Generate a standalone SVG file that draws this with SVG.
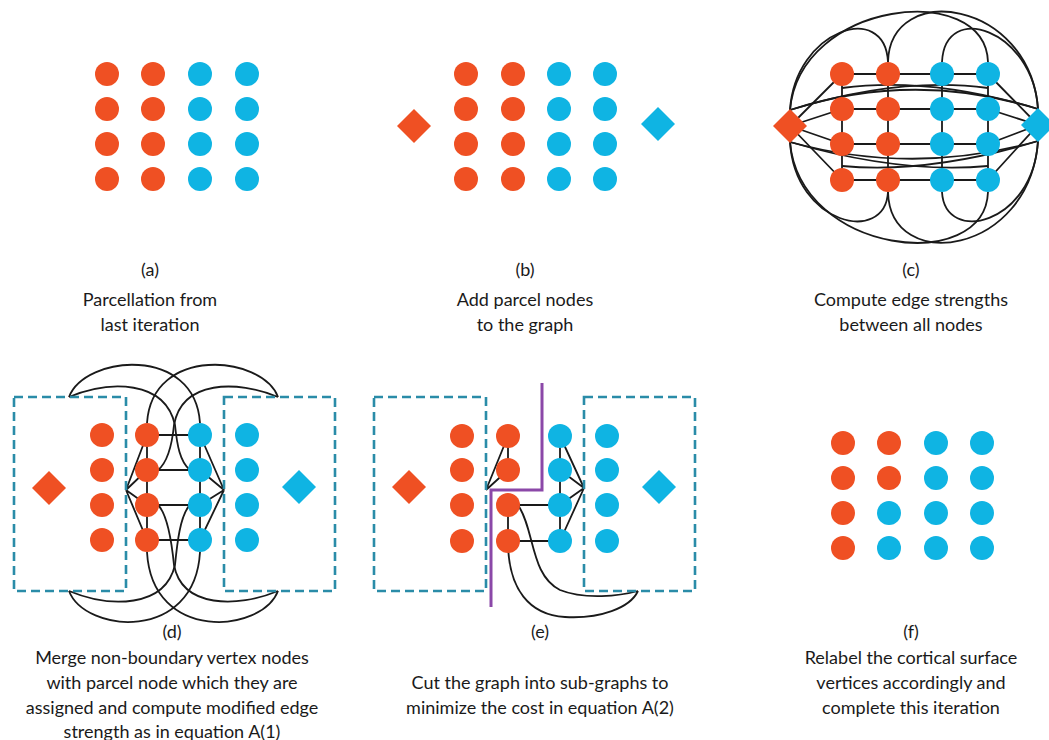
<svg xmlns="http://www.w3.org/2000/svg" width="1049" height="740" viewBox="0 0 1049 740">
<style>
.o{fill:#EF5023}
.b{fill:#0FB4E3}
.ln{fill:none;stroke:#1a1a1a;stroke-width:1.8}
.box{fill:none;stroke:#2A8CA8;stroke-width:2.6;stroke-dasharray:9 5}
.cut{fill:none;stroke:#8B48A8;stroke-width:3}
text{font-family:Lato,"Liberation Sans",sans-serif;font-size:18px;fill:#1a1a1a;text-anchor:middle}
</style>
<rect width="1049" height="740" fill="#fff"/>

<g id="connectors">
  <!-- panel c -->
  <g id="conn-c" class="ln">
    <path d="M842,74H988M842,109H988M842,144H988M842,180H988"/>
    <path d="M842,74V180M888,74V180M942,74V180M988,74V180"/>
    <path d="M790,126L842,74M790,126L842,109M790,126L842,144M790,126L842,180"/>
    <path d="M1038,125L988,74M1038,125L988,109M1038,125L988,144M1038,125L988,180"/>
    <path d="M790,110C800,0 985,-20 988,62"/>
    <path d="M888,62C890,-20 1030,0 1038,109"/>
    <path d="M790,110C795,30 885,0 888,62"/>
    <path d="M942,62C945,0 1033,30 1038,109"/>
    <path d="M790,142C800,255 985,275 988,192"/>
    <path d="M888,192C890,275 1030,255 1038,141"/>
    <path d="M790,142C795,225 885,245 888,192"/>
    <path d="M942,192C945,245 1033,225 1038,141"/>
    <path d="M790,110Q914,70 1038,109"/>
    <path d="M790,110Q900,76 988,88"/>
    <path d="M842,88Q930,76 1038,109"/>
    <path d="M790,142Q914,176 1038,141"/>
    <path d="M790,142Q900,174 988,166"/>
    <path d="M842,166Q930,174 1038,141"/>
  </g>
  <!-- panel d -->
  <g id="conn-d" class="ln">
    <path d="M147,435H200M147,470H200M147,505H200M147,540H200"/>
    <path d="M147,435V540M200,435V540"/>
    <path d="M126,490L147,435M126,490L147,470M126,490L147,505M126,490L147,540"/>
    <path d="M224,490L200,435M224,490L200,470M224,490L200,505M224,490L200,540"/>
    <path d="M69,397C85,355 195,345 200,423"/>
    <path d="M278,397C262,355 152,345 147,423"/>
    <path d="M69,397C110,380 165,380 175,425C177,445 180,462 190,470"/>
    <path d="M278,397C237,380 182,380 174,425C172,445 168,462 158,470"/>
    <path d="M69,591C85,633 195,643 200,552"/>
    <path d="M278,591C262,633 152,643 147,552"/>
    <path d="M69,591C110,608 165,608 175,565C177,545 180,515 190,505"/>
    <path d="M278,591C237,608 182,608 174,565C172,545 168,515 158,505"/>
  </g>
  <!-- panel e -->
  <g id="conn-e" class="ln">
    <path d="M508,436V470M508,505V541"/>
    <path d="M486,490L508,436M486,490L508,470"/>
    <path d="M508,505H560M508,541H560"/>
    <path d="M560,436V541"/>
    <path d="M584,488L560,436M584,488L560,470M584,488L560,505M584,488L560,541"/>
    <path d="M518,505C535,530 530,575 560,590C585,600 620,596 638,591"/>
    <path d="M508,541C508,590 530,615 565,617C600,619 630,608 638,591"/>
  </g>
</g>

<g id="boxes">
  <rect class="box" x="14" y="397" width="112" height="194"/>
  <rect class="box" x="224" y="397" width="111" height="194"/>
  <rect class="box" x="374" y="397" width="112" height="194"/>
  <rect class="box" x="584" y="397" width="111" height="194"/>
</g>
<path id="cut-line" class="cut" d="M542,383V490H491V607"/>

<!-- panel a -->
<g id="panel-a">
  <g id="a11"><circle class="o" cx="107" cy="74" r="12"/></g>
  <g id="a12"><circle class="o" cx="153" cy="74" r="12"/></g>
  <g id="a13"><circle class="b" cx="200" cy="74" r="12"/></g>
  <g id="a14"><circle class="b" cx="247" cy="74" r="12"/></g>
  <g id="a21"><circle class="o" cx="107" cy="109" r="12"/></g>
  <g id="a22"><circle class="o" cx="153" cy="109" r="12"/></g>
  <g id="a23"><circle class="b" cx="200" cy="109" r="12"/></g>
  <g id="a24"><circle class="b" cx="247" cy="109" r="12"/></g>
  <g id="a31"><circle class="o" cx="107" cy="144" r="12"/></g>
  <g id="a32"><circle class="o" cx="153" cy="144" r="12"/></g>
  <g id="a33"><circle class="b" cx="200" cy="144" r="12"/></g>
  <g id="a34"><circle class="b" cx="247" cy="144" r="12"/></g>
  <g id="a41"><circle class="o" cx="107" cy="179" r="12"/></g>
  <g id="a42"><circle class="o" cx="153" cy="179" r="12"/></g>
  <g id="a43"><circle class="b" cx="200" cy="179" r="12"/></g>
  <g id="a44"><circle class="b" cx="247" cy="179" r="12"/></g>
</g>

<!-- panel b -->
<g id="panel-b">
  <g id="b-dl"><polygon class="o" points="414,109 431,126 414,143 397,126"/></g>
  <g id="b-dr"><polygon class="b" points="658,107 675,124 658,141 641,124"/></g>
  <g id="b11"><circle class="o" cx="466" cy="74" r="12"/></g>
  <g id="b12"><circle class="o" cx="513" cy="74" r="12"/></g>
  <g id="b13"><circle class="b" cx="559" cy="74" r="12"/></g>
  <g id="b14"><circle class="b" cx="605" cy="74" r="12"/></g>
  <g id="b21"><circle class="o" cx="466" cy="109" r="12"/></g>
  <g id="b22"><circle class="o" cx="513" cy="109" r="12"/></g>
  <g id="b23"><circle class="b" cx="559" cy="109" r="12"/></g>
  <g id="b24"><circle class="b" cx="605" cy="109" r="12"/></g>
  <g id="b31"><circle class="o" cx="466" cy="144" r="12"/></g>
  <g id="b32"><circle class="o" cx="513" cy="144" r="12"/></g>
  <g id="b33"><circle class="b" cx="559" cy="144" r="12"/></g>
  <g id="b34"><circle class="b" cx="605" cy="144" r="12"/></g>
  <g id="b41"><circle class="o" cx="466" cy="179" r="12"/></g>
  <g id="b42"><circle class="o" cx="513" cy="179" r="12"/></g>
  <g id="b43"><circle class="b" cx="559" cy="179" r="12"/></g>
  <g id="b44"><circle class="b" cx="605" cy="179" r="12"/></g>
</g>

<!-- panel c -->
<g id="panel-c">
  <g id="c-dl"><polygon class="o" points="790,109 807,126 790,143 773,126"/></g>
  <g id="c-dr"><polygon class="b" points="1038,108 1055,125 1038,142 1021,125"/></g>
  <g id="c11"><circle class="o" cx="842" cy="74" r="12"/></g>
  <g id="c12"><circle class="o" cx="888" cy="74" r="12"/></g>
  <g id="c13"><circle class="b" cx="942" cy="74" r="12"/></g>
  <g id="c14"><circle class="b" cx="988" cy="74" r="12"/></g>
  <g id="c21"><circle class="o" cx="842" cy="109" r="12"/></g>
  <g id="c22"><circle class="o" cx="888" cy="109" r="12"/></g>
  <g id="c23"><circle class="b" cx="942" cy="109" r="12"/></g>
  <g id="c24"><circle class="b" cx="988" cy="109" r="12"/></g>
  <g id="c31"><circle class="o" cx="842" cy="144" r="12"/></g>
  <g id="c32"><circle class="o" cx="888" cy="144" r="12"/></g>
  <g id="c33"><circle class="b" cx="942" cy="144" r="12"/></g>
  <g id="c34"><circle class="b" cx="988" cy="144" r="12"/></g>
  <g id="c41"><circle class="o" cx="842" cy="180" r="12"/></g>
  <g id="c42"><circle class="o" cx="888" cy="180" r="12"/></g>
  <g id="c43"><circle class="b" cx="942" cy="180" r="12"/></g>
  <g id="c44"><circle class="b" cx="988" cy="180" r="12"/></g>
</g>

<!-- panel d -->
<g id="panel-d">
  <g id="d-dl"><polygon class="o" points="49,471 66,488 49,505 32,488"/></g>
  <g id="d-dr"><polygon class="b" points="299,470 316,487 299,504 282,487"/></g>
  <g id="d11"><circle class="o" cx="102" cy="435" r="12"/></g>
  <g id="d12"><circle class="o" cx="147" cy="435" r="12"/></g>
  <g id="d13"><circle class="b" cx="200" cy="435" r="12"/></g>
  <g id="d14"><circle class="b" cx="247" cy="435" r="12"/></g>
  <g id="d21"><circle class="o" cx="102" cy="470" r="12"/></g>
  <g id="d22"><circle class="o" cx="147" cy="470" r="12"/></g>
  <g id="d23"><circle class="b" cx="200" cy="470" r="12"/></g>
  <g id="d24"><circle class="b" cx="247" cy="470" r="12"/></g>
  <g id="d31"><circle class="o" cx="102" cy="505" r="12"/></g>
  <g id="d32"><circle class="o" cx="147" cy="505" r="12"/></g>
  <g id="d33"><circle class="b" cx="200" cy="505" r="12"/></g>
  <g id="d34"><circle class="b" cx="247" cy="505" r="12"/></g>
  <g id="d41"><circle class="o" cx="102" cy="540" r="12"/></g>
  <g id="d42"><circle class="o" cx="147" cy="540" r="12"/></g>
  <g id="d43"><circle class="b" cx="200" cy="540" r="12"/></g>
  <g id="d44"><circle class="b" cx="247" cy="540" r="12"/></g>
</g>

<!-- panel e -->
<g id="panel-e">
  <g id="e-dl"><polygon class="o" points="409,470 426,487 409,504 392,487"/></g>
  <g id="e-dr"><polygon class="b" points="659,470 676,487 659,504 642,487"/></g>
  <g id="e11"><circle class="o" cx="462" cy="436" r="12"/></g>
  <g id="e12"><circle class="o" cx="508" cy="436" r="12"/></g>
  <g id="e13"><circle class="b" cx="560" cy="436" r="12"/></g>
  <g id="e14"><circle class="b" cx="607" cy="436" r="12"/></g>
  <g id="e21"><circle class="o" cx="462" cy="470" r="12"/></g>
  <g id="e22"><circle class="o" cx="508" cy="470" r="12"/></g>
  <g id="e23"><circle class="b" cx="560" cy="470" r="12"/></g>
  <g id="e24"><circle class="b" cx="607" cy="470" r="12"/></g>
  <g id="e31"><circle class="o" cx="462" cy="505" r="12"/></g>
  <g id="e32"><circle class="o" cx="508" cy="505" r="12"/></g>
  <g id="e33"><circle class="b" cx="560" cy="505" r="12"/></g>
  <g id="e34"><circle class="b" cx="607" cy="505" r="12"/></g>
  <g id="e41"><circle class="o" cx="462" cy="541" r="12"/></g>
  <g id="e42"><circle class="o" cx="508" cy="541" r="12"/></g>
  <g id="e43"><circle class="b" cx="560" cy="541" r="12"/></g>
  <g id="e44"><circle class="b" cx="607" cy="541" r="12"/></g>
</g>

<!-- panel f -->
<g id="panel-f">
  <g id="f11"><circle class="o" cx="843" cy="443" r="12"/></g>
  <g id="f12"><circle class="o" cx="889" cy="443" r="12"/></g>
  <g id="f13"><circle class="b" cx="936" cy="443" r="12"/></g>
  <g id="f14"><circle class="b" cx="982" cy="443" r="12"/></g>
  <g id="f21"><circle class="o" cx="843" cy="478" r="12"/></g>
  <g id="f22"><circle class="o" cx="889" cy="478" r="12"/></g>
  <g id="f23"><circle class="b" cx="936" cy="478" r="12"/></g>
  <g id="f24"><circle class="b" cx="982" cy="478" r="12"/></g>
  <g id="f31"><circle class="o" cx="843" cy="513" r="12"/></g>
  <g id="f32"><circle class="b" cx="889" cy="513" r="12"/></g>
  <g id="f33"><circle class="b" cx="936" cy="513" r="12"/></g>
  <g id="f34"><circle class="b" cx="982" cy="513" r="12"/></g>
  <g id="f41"><circle class="o" cx="843" cy="548" r="12"/></g>
  <g id="f42"><circle class="b" cx="889" cy="548" r="12"/></g>
  <g id="f43"><circle class="b" cx="936" cy="548" r="12"/></g>
  <g id="f44"><circle class="b" cx="982" cy="548" r="12"/></g>
</g>

<g id="captions">
  <text x="150" y="276">(a)</text>
  <text x="150" y="306">Parcellation from</text>
  <text x="150" y="331">last iteration</text>
  <text x="525" y="276">(b)</text>
  <text x="525" y="306">Add parcel nodes</text>
  <text x="525" y="331">to the graph</text>
  <text x="911" y="276">(c)</text>
  <text x="911" y="306">Compute edge strengths</text>
  <text x="911" y="331">between all nodes</text>
  <text x="172" y="638">(d)</text>
  <text x="172" y="664">Merge non-boundary vertex nodes</text>
  <text x="172" y="689">with parcel node which they are</text>
  <text x="172" y="714">assigned and compute modified edge</text>
  <text x="172" y="738">strength as in equation A(1)</text>
  <text x="540" y="638">(e)</text>
  <text x="540" y="689">Cut the graph into sub-graphs to</text>
  <text x="540" y="714">minimize the cost in equation A(2)</text>
  <text x="911" y="638">(f)</text>
  <text x="911" y="664">Relabel the cortical surface</text>
  <text x="911" y="689">vertices accordingly and</text>
  <text x="911" y="714">complete this iteration</text>
</g>
</svg>
